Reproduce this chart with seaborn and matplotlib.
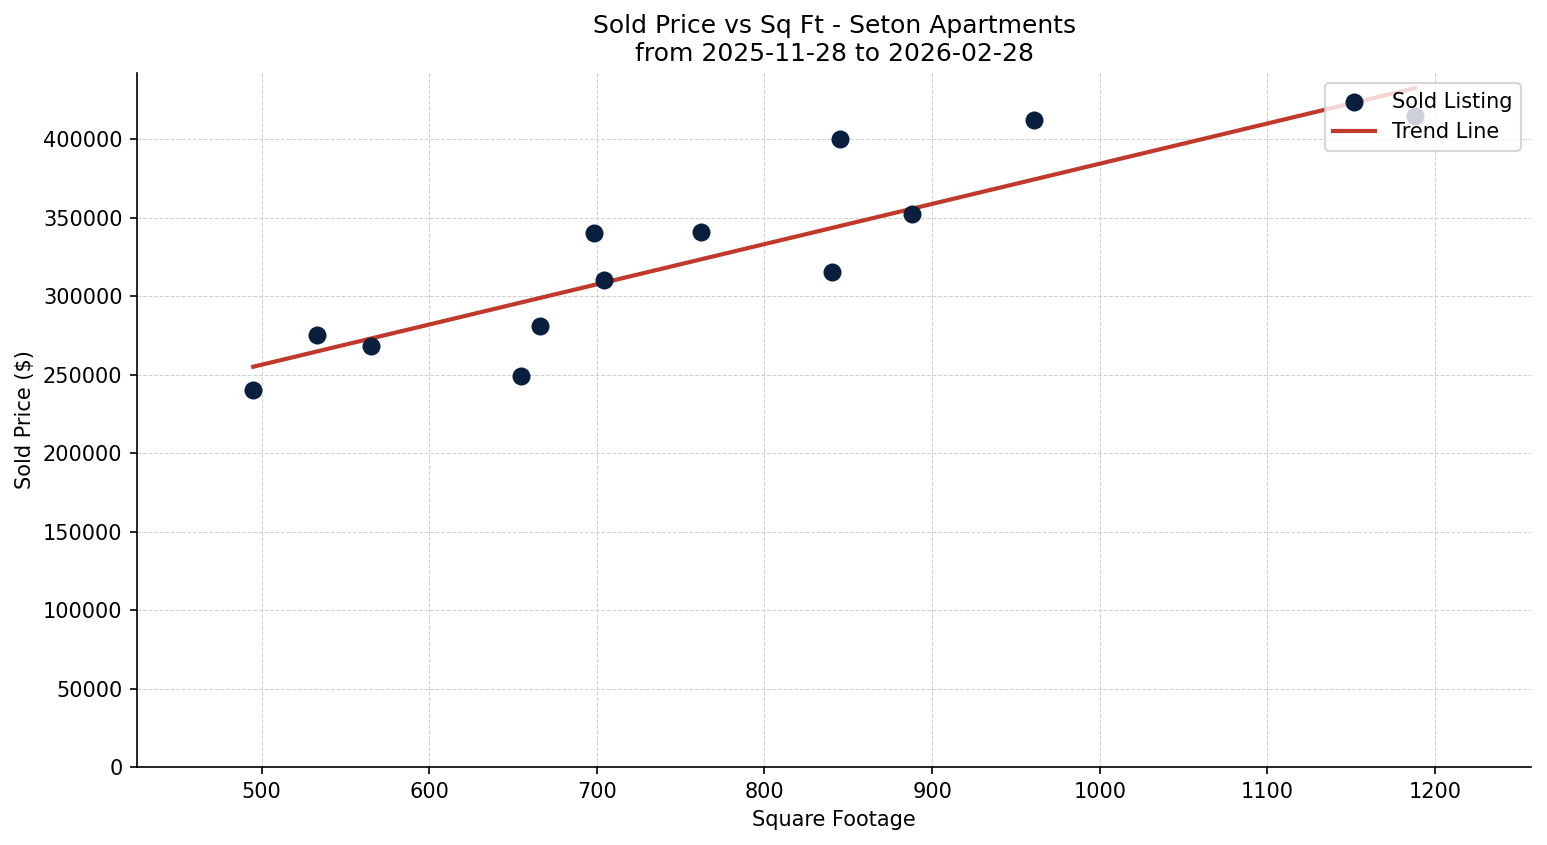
import numpy as np
import pandas as pd
import matplotlib
matplotlib.use('Agg')
import matplotlib.pyplot as plt
from matplotlib.ticker import MultipleLocator
import seaborn as sns

# data
sqft = [495, 533, 565, 655, 666, 698, 704, 762, 840, 845, 888, 961, 1188]
price = [240000, 275000, 268000, 249000, 281000, 340000, 310000, 340500,
         315000, 400000, 352000, 412000, 415000]

# trend line as drawn in the reference (slope / intercept)
trend_slope = 256.1
trend_intercept = 128200

df = pd.DataFrame({'sqft': sqft, 'price': price})

plt.rcParams['font.family'] = ['DejaVu Sans']

fig, ax = plt.subplots(figsize=(1547 / 150, 845 / 150), dpi=150)
fig.subplots_adjust(left=0.0886, right=0.9897, top=0.9136, bottom=0.0923)

sns.scatterplot(data=df, x='sqft', y='price', color='#0a1f3d', s=75,
                linewidth=0, label='Sold Listing', ax=ax, zorder=3)

xs = np.array([df['sqft'].min(), df['sqft'].max()])
sns.lineplot(x=xs, y=trend_slope * xs + trend_intercept, color='#c0392b',
             linewidth=2, label='Trend Line', ax=ax, zorder=2)

span = df['sqft'].max() - df['sqft'].min()
ax.set_xlim(df['sqft'].min() - 0.1 * span, df['sqft'].max() + 0.1 * span)
ax.set_ylim(bottom=0)
ax.yaxis.set_major_locator(MultipleLocator(50000))

ax.grid(True, linestyle='--', linewidth=0.5, color='#cccccc', alpha=0.9)
ax.set_axisbelow(True)
sns.despine(ax=ax)

ax.set_title('Sold Price vs Sq Ft - Seton Apartments\nfrom 2025-11-28 to 2026-02-28', fontsize=12)
ax.set_xlabel('Square Footage', fontsize=10)
ax.set_ylabel('Sold Price ($)', fontsize=10)
ax.tick_params(labelsize=10)
ax.legend(loc='upper right', fontsize=10)

fig.savefig('out.png', dpi=150)
